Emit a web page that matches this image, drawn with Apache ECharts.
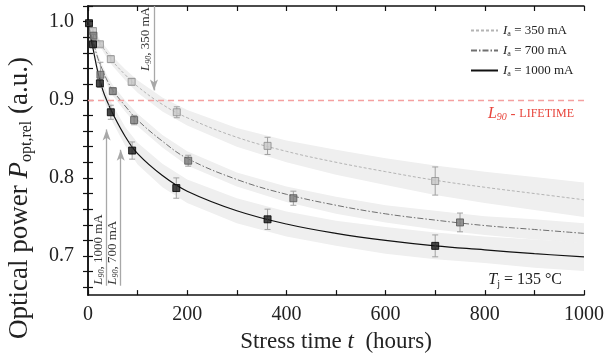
<!DOCTYPE html>
<html>
<head>
<meta charset="utf-8">
<script src="https://cdn.jsdelivr.net/npm/echarts@6/dist/echarts.min.js"></script>
<style>
html, body { margin: 0; padding: 0; background: #fff; }
#main { width: 607px; height: 358px; }
</style>
</head>
<body>
<div id="main"></div>
<script>
// fitted curves
var fitT = [0, 5, 10, 20, 30, 40, 50, 75, 100, 150, 200, 300, 400, 500, 600, 700, 800, 900, 1000];
var fit350 = [1.0, 0.994, 0.988, 0.977, 0.967, 0.958, 0.949, 0.932, 0.917, 0.894, 0.877, 0.852, 0.834, 0.820, 0.808, 0.797, 0.788, 0.780, 0.772];
var fit700 = [1.0, 0.988, 0.975, 0.953, 0.937, 0.923, 0.912, 0.892, 0.874, 0.847, 0.825, 0.798, 0.779, 0.765, 0.754, 0.746, 0.739, 0.734, 0.729];
var fit1000 = [1.0, 0.983, 0.966, 0.935, 0.912, 0.896, 0.882, 0.853, 0.831, 0.803, 0.783, 0.758, 0.741, 0.729, 0.720, 0.713, 0.708, 0.703, 0.699];
// half width of the grey confidence bands
var band350 = [0, 0.002, 0.003, 0.004, 0.005, 0.006, 0.006, 0.007, 0.008, 0.009, 0.010, 0.012, 0.014, 0.016, 0.017, 0.019, 0.020, 0.021, 0.022];
var band700 = [0, 0.003, 0.004, 0.005, 0.006, 0.006, 0.007, 0.007, 0.008, 0.008, 0.009, 0.009, 0.010, 0.011, 0.011, 0.012, 0.012, 0.013, 0.013];
var band1000 = [0, 0.004, 0.006, 0.008, 0.009, 0.010, 0.011, 0.012, 0.014, 0.015, 0.015, 0.016, 0.016, 0.016, 0.017, 0.017, 0.017, 0.018, 0.018];

// measured points with error bars
var t350 = [10, 24, 46, 88, 179, 362, 700];
var p350 = [0.988, 0.971, 0.952, 0.923, 0.884, 0.841, 0.796];
var e350 = [0.003, 0.003, 0.004, 0.004, 0.007, 0.011, 0.018];
var t700 = [11, 25, 50, 93, 202, 414, 750];
var p700 = [0.982, 0.932, 0.911, 0.874, 0.822, 0.774, 0.743];
var e700 = [0.004, 0.016, 0.004, 0.006, 0.007, 0.009, 0.012];
var t1000 = [2, 10, 24, 46, 89, 178, 362, 700];
var p1000 = [0.998, 0.971, 0.921, 0.884, 0.835, 0.787, 0.747, 0.713];
var e1000 = [0.003, 0.004, 0.005, 0.009, 0.011, 0.013, 0.013, 0.014];

// L90 lifetimes (hours)
var l90 = { '350': 133, '700': 66, '1000': 37.5 };

var xTicks = [0, 100, 200, 300, 400, 500, 600, 700, 800, 900, 1000];
var xLabels = [0, 200, 400, 600, 800, 1000];
var yTicks = [0.66, 0.68, 0.70, 0.72, 0.74, 0.76, 0.78, 0.80, 0.82, 0.84, 0.86, 0.88, 0.90, 0.92, 0.94, 0.96, 0.98, 1.00, 1.02];
var yLabels = [0.7, 0.8, 0.9, 1.0];

var FONT = 'Liberation Serif';
var chartDom = document.getElementById('main');
var myChart = echarts.init(chartDom);
var option;

function pairs(t, v) {
	return t.map(function (x, i) { return [x, v[i]]; });
}

// grey band drawn as one polygon (upper edge forward, lower edge back)
function bandSeries(fit, hw) {
	return {
		type: 'custom',
		silent: true,
		z: 1,
		data: fitT.map(function (t, i) { return [t, fit[i] - hw[i], fit[i] + hw[i]]; }),
		encode: { x: 0, y: [1, 2] },
		renderItem: function (params, api) {
			if (params.dataIndex !== 0) return;
			var pts = [];
			for (var i = 0; i < fitT.length; i++) pts.push(api.coord([fitT[i], fit[i] + hw[i]]));
			for (var j = fitT.length - 1; j >= 0; j--) pts.push(api.coord([fitT[j], fit[j] - hw[j]]));
			return { type: 'polygon', shape: { points: pts }, style: { fill: '#efefef' } };
		}
	};
}

function errorSeries(t, p, e) {
	return {
		type: 'custom',
		z: 4,
		silent: true,
		data: t.map(function (x, i) { return [x, p[i] - e[i], p[i] + e[i]]; }),
		encode: { x: 0, y: [1, 2] },
		renderItem: function (params, api) {
			var lo = api.coord([api.value(0), api.value(1)]);
			var hi = api.coord([api.value(0), api.value(2)]);
			var w = 3;
			var st = { stroke: '#a0a0a0', lineWidth: 1 };
			return {
				type: 'group',
				children: [
					{ type: 'line', shape: { x1: lo[0], y1: lo[1], x2: hi[0], y2: hi[1] }, style: st },
					{ type: 'line', shape: { x1: lo[0] - w, y1: lo[1], x2: lo[0] + w, y2: lo[1] }, style: st },
					{ type: 'line', shape: { x1: hi[0] - w, y1: hi[1], x2: hi[0] + w, y2: hi[1] }, style: st }
				]
			};
		}
	};
}

var subRich = {
	i: { fontFamily: FONT, fontStyle: 'italic', fontSize: 13, color: '#333', verticalAlign: 'middle', lineHeight: 15 },
	s: { fontFamily: FONT, fontStyle: 'italic', fontSize: 8, color: '#333', verticalAlign: 'bottom', lineHeight: 9 },
	n: { fontFamily: FONT, fontSize: 13, color: '#333', verticalAlign: 'middle', lineHeight: 15 }
};

function arrowLabel(txt, pos) {
	return {
		show: true,
		position: pos,
		distance: 1,
		formatter: '{i|L}{s|90}{n|, ' + txt + '}',
		rich: subRich
	};
}

var arrowStyle = { color: '#a8a8a8', width: 1.3, type: 'solid' };
var red = '#e8453c';

option = {
	animation: false,
	textStyle: { fontFamily: FONT },
	grid: { left: 88, right: 23, top: 6, bottom: 61 },
	legend: {
		orient: 'vertical',
		left: 465,
		top: 19,
		itemWidth: 27,
		itemHeight: 12,
		itemGap: 6,
		data: ['350', '700', '1000'],
		itemStyle: { opacity: 0 },
		formatter: function (name) { return '{i|I}{s|a}{n| = ' + name + ' mA}'; },
		textStyle: {
			rich: {
				i: { fontFamily: FONT, fontStyle: 'italic', fontSize: 13, color: '#222', lineHeight: 15 },
				s: { fontFamily: FONT, fontSize: 8, color: '#222', verticalAlign: 'bottom', lineHeight: 9 },
				n: { fontFamily: FONT, fontSize: 13, color: '#222', lineHeight: 15 }
			}
		}
	},
	xAxis: [
		{
			type: 'value', min: 0, max: 1000, interval: 200,
			name: 'Stress time {i|t}  (hours)',
			nameLocation: 'middle', nameGap: 33,
			nameTextStyle: {
				fontFamily: FONT, fontSize: 23, color: '#222',
				rich: { i: { fontFamily: FONT, fontStyle: 'italic', fontSize: 23, color: '#222' } }
			},
			axisLine: { lineStyle: { color: '#111', width: 1.5 } },
			axisTick: { inside: true, length: 5, customValues: xTicks, lineStyle: { color: '#111', width: 1.2 } },
			axisLabel: {
				customValues: xLabels, margin: 10, fontFamily: FONT, fontSize: 20, color: '#222',
				formatter: function (v) { return String(v); }
			},
			splitLine: { show: false }
		},
		{
			type: 'value', min: 0, max: 1000, position: 'top',
			axisLine: { lineStyle: { color: '#111', width: 1.5 } },
			axisTick: { inside: true, length: 5, customValues: xTicks, lineStyle: { color: '#111', width: 1.2 } },
			axisLabel: { show: false },
			splitLine: { show: false }
		}
	],
	yAxis: [
		{
			type: 'value', min: 0.65, max: 1.02,
			axisLine: { show: true, lineStyle: { color: '#111', width: 1.5 } },
			axisTick: { show: true, inside: true, length: 5, customValues: yTicks, lineStyle: { color: '#111', width: 1.2 } },
			axisLabel: {
				customValues: yLabels, margin: 14, fontFamily: FONT, fontSize: 20, color: '#222',
				formatter: function (v) { return v.toFixed(1); }
			},
			splitLine: { show: false }
		},
		{
			type: 'value', min: 0.65, max: 1.02, position: 'right',
			axisLine: { show: true, lineStyle: { color: '#111', width: 1.5 } },
			axisTick: { show: true, inside: true, length: 5, customValues: yTicks, lineStyle: { color: '#111', width: 1.2 } },
			axisLabel: { show: false },
			splitLine: { show: false }
		}
	],
	graphic: [
		{
			type: 'text',
			x: 20, y: 198,
			z: 100,
			rotation: Math.PI / 2,
			style: {
				text: '{n|Optical power }{i|P}{s|opt,rel}{n| (a.u.)}',
				align: 'center', verticalAlign: 'middle',
				rich: {
					n: { fontFamily: FONT, fontSize: 27, fill: '#222', lineHeight: 30, verticalAlign: 'middle' },
					i: { fontFamily: FONT, fontStyle: 'italic', fontSize: 27, fill: '#222', lineHeight: 30, verticalAlign: 'middle' },
					s: { fontFamily: FONT, fontSize: 16, fill: '#222', lineHeight: 17, verticalAlign: 'bottom' }
				}
			}
		},
		{
			type: 'text',
			right: 45, top: 272,
			z: 100,
			style: {
				text: '{i|T}{s|j}{n| = 135 °C}',
				rich: {
					i: { fontFamily: FONT, fontStyle: 'italic', fontSize: 16, fill: '#222', lineHeight: 18, verticalAlign: 'middle' },
					s: { fontFamily: FONT, fontSize: 10, fill: '#222', lineHeight: 10, verticalAlign: 'bottom' },
					n: { fontFamily: FONT, fontSize: 16, fill: '#222', lineHeight: 18, verticalAlign: 'middle' }
				}
			}
		}
	],
	series: [
		bandSeries(fit350, band350),
		bandSeries(fit700, band700),
		bandSeries(fit1000, band1000),
		{
			name: '350', type: 'line', data: pairs(fitT, fit350), symbol: 'none', smooth: 0.4, z: 3,
			itemStyle: { color: '#b4b4b4' },
			lineStyle: { color: '#b4b4b4', width: 1, type: [3, 2] }
		},
		{
			name: '700', type: 'line', data: pairs(fitT, fit700), symbol: 'none', smooth: 0.4, z: 3,
			itemStyle: { color: '#707070' },
			lineStyle: { color: '#707070', width: 1, type: [6, 2, 1.5, 2] }
		},
		{
			name: '1000', type: 'line', data: pairs(fitT, fit1000), symbol: 'none', smooth: 0.4, z: 3,
			itemStyle: { color: '#111' },
			lineStyle: { color: '#111', width: 1.2 }
		},
		errorSeries(t350, p350, e350),
		errorSeries(t700, p700, e700),
		errorSeries(t1000, p1000, e1000),
		{
			type: 'scatter', data: pairs(t350, p350), symbol: 'rect', symbolSize: 7, z: 5,
			itemStyle: { color: '#c8c8c8', borderColor: '#8c8c8c', borderWidth: 1 },
			markLine: {
				silent: true,
				symbol: ['none', 'none'],
				data: [
					{
						yAxis: 0.9,
						lineStyle: { color: '#f4a0a0', width: 1.3, type: [6, 4] },
						label: {
							show: true,
							position: 'insideEndBottom',
							distance: [10, 6],
							formatter: '{i|L}{s|90}{n| - }{c|LIFETIME}',
							rich: {
								i: { fontFamily: FONT, fontStyle: 'italic', fontSize: 16, color: red, lineHeight: 17, verticalAlign: 'middle' },
								s: { fontFamily: FONT, fontStyle: 'italic', fontSize: 10, color: red, lineHeight: 10, verticalAlign: 'bottom' },
								n: { fontFamily: FONT, fontSize: 15, color: red, lineHeight: 17, verticalAlign: 'middle' },
								c: { fontFamily: FONT, fontSize: 12, color: red, lineHeight: 17, verticalAlign: 'middle' }
							}
						}
					}
				]
			}
		},
		{
			type: 'scatter', data: pairs(t700, p700), symbol: 'rect', symbolSize: 7, z: 5,
			itemStyle: { color: '#7a7a7a', borderColor: '#555', borderWidth: 1 }
		},
		{
			type: 'scatter', data: pairs(t1000, p1000), symbol: 'rect', symbolSize: 7, z: 5,
			itemStyle: { color: '#1a1a1a', borderColor: '#000', borderWidth: 1 },
			markLine: {
				silent: true,
				symbol: ['none', 'arrow'],
				symbolSize: [6, 11],
				data: [
					[
						{ coord: [l90['1000'], 0.662], lineStyle: arrowStyle, label: arrowLabel('1000 mA', 'insideStartTop') },
						{ coord: [l90['1000'], 0.862] }
					],
					[
						{ coord: [l90['700'], 0.662], lineStyle: arrowStyle, label: arrowLabel('700 mA', 'insideStartTop') },
						{ coord: [l90['700'], 0.836] }
					],
					[
						{ coord: [l90['350'], 0.912], symbol: 'arrow', lineStyle: arrowStyle, label: arrowLabel('350 mA', 'insideEndTop') },
						{ coord: [l90['350'], 1.02], symbol: 'none' }
					]
				]
			}
		}
	]
};

option && myChart.setOption(option);
</script>
</body>
</html>
